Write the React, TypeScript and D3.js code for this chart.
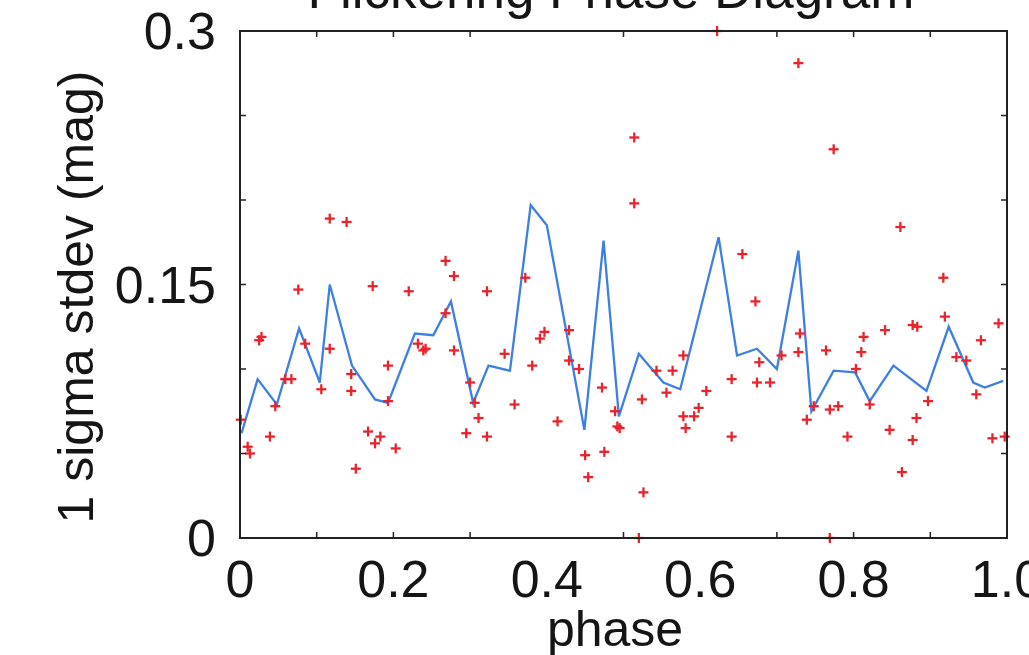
import React from "react";
import * as d3 from "d3";

// Binned mean line (phase, 1-sigma stdev)
const linePhase = [0.002, 0.023, 0.048, 0.077, 0.104, 0.117, 0.146, 0.176, 0.193, 0.228, 0.252, 0.275, 0.304, 0.324, 0.352, 0.379, 0.400, 0.449, 0.474, 0.494, 0.520, 0.552, 0.574, 0.624, 0.648, 0.674, 0.700, 0.728, 0.745, 0.774, 0.802, 0.821, 0.852, 0.895, 0.924, 0.956, 0.971, 0.995];
const lineValue = [0.062, 0.094, 0.079, 0.124, 0.092, 0.150, 0.102, 0.082, 0.080, 0.121, 0.120, 0.140, 0.080, 0.102, 0.099, 0.197, 0.185, 0.064, 0.176, 0.072, 0.109, 0.092, 0.088, 0.178, 0.108, 0.112, 0.100, 0.170, 0.075, 0.099, 0.098, 0.081, 0.102, 0.087, 0.125, 0.092, 0.089, 0.093];

// Individual measurements
const pointPhase = [
  0.117, 0.139, 0.076, 0.173, 0.220, 0.025, 0.085, 0.117, 0.232, 0.239, 0.193, 0.145, 0.067, 0.059, 0.106, 0.145, 0.046, 0.193, 0.001, 0.039,
  0.167, 0.183, 0.176, 0.203, 0.010, 0.013, 0.151, 0.268, 0.279, 0.322, 0.268, 0.372, 0.242, 0.279, 0.300, 0.311, 0.295, 0.322, 0.306, 0.429,
  0.391, 0.397, 0.345, 0.381, 0.429, 0.442, 0.472, 0.358, 0.414, 0.489, 0.492, 0.450, 0.475, 0.454, 0.514, 0.514, 0.622, 0.655, 0.672, 0.578,
  0.543, 0.564, 0.556, 0.524, 0.608, 0.598, 0.578, 0.592, 0.581, 0.495, 0.641, 0.641, 0.677, 0.674, 0.691, 0.706, 0.730, 0.728, 0.739, 0.526,
  0.728, 0.774, 0.861, 0.917, 0.919, 0.989, 0.877, 0.883, 0.841, 0.813, 0.966, 0.764, 0.810, 0.803, 0.934, 0.947, 0.960, 0.748, 0.769, 0.780,
  0.821, 0.897, 0.882, 0.847, 0.792, 0.877, 0.981, 0.997, 0.863, 0.769, 0.520, 0.028
];
const pointValue = [
  0.189, 0.187, 0.147, 0.149, 0.146, 0.117, 0.115, 0.112, 0.115, 0.111, 0.102, 0.097, 0.094, 0.094, 0.088, 0.087, 0.078, 0.081, 0.070, 0.060,
  0.063, 0.060, 0.056, 0.053, 0.054, 0.050, 0.041, 0.164, 0.155, 0.146, 0.133, 0.154, 0.112, 0.111, 0.092, 0.071, 0.062, 0.060, 0.080, 0.123,
  0.118, 0.122, 0.109, 0.102, 0.105, 0.100, 0.089, 0.079, 0.069, 0.075, 0.066, 0.049, 0.051, 0.036, 0.237, 0.198, 0.300, 0.168, 0.140, 0.108,
  0.099, 0.099, 0.086, 0.082, 0.087, 0.077, 0.072, 0.072, 0.065, 0.065, 0.094, 0.060, 0.104, 0.092, 0.092, 0.108, 0.121, 0.110, 0.070, 0.027,
  0.281, 0.230, 0.184, 0.154, 0.131, 0.127, 0.126, 0.125, 0.123, 0.119, 0.117, 0.111, 0.110, 0.100, 0.107, 0.105, 0.085, 0.078, 0.076, 0.078,
  0.079, 0.081, 0.071, 0.064, 0.060, 0.058, 0.059, 0.060, 0.039, 0.000, 0.000, 0.119
];

const xTickValues = [0.1, 0.2, 0.3, 0.5, 0.7, 0.8, 0.9];
const xTickLabels = [0, 0.2, 0.4, 0.6, 0.8, 1.0];
const yTickValues = [0.05, 0.1, 0.15, 0.2, 0.25];
const yTickLabels = [0, 0.15, 0.3];

const title = "Flickering Phase Diagram";
const xLabel = "phase";
const yLabel = "1 sigma stdev (mag)";

export default function App() {
  const W = 1029, H = 655;
  const left = 240, right = 1007, top = 31, bottom = 538;
  const x = d3.scaleLinear().domain([0, 1]).range([left, right]);
  const y = d3.scaleLinear().domain([0, 0.3]).range([bottom, top]);
  const font = "'Liberation Sans', Arial, Helvetica, sans-serif";
  const lineGen = d3.line<number>().x((_, i) => x(linePhase[i])).y((d) => y(d));
  const tickLen = 6;
  const cs = 5;
  const xFmt = (v: number) => (v === 0 ? "0" : v === 1 ? "1.0" : d3.format(".1f")(v));
  const yFmt = (v: number) => (v === 0 ? "0" : String(v));

  return (
    <svg width={W} height={H} style={{ position: "absolute", left: 0, top: 0, background: "#fff" }} fontFamily={font}>
      <rect x={0} y={0} width={W} height={H} fill="#fff" />
      <text x={611} y={8} fontSize={53} textAnchor="middle" fill="#151515">{title}</text>

      {/* data line */}
      <path d={lineGen(lineValue) || ""} fill="none" stroke="#3d7fe3" strokeWidth={2.3} strokeLinejoin="miter" />

      {/* points */}
      <g stroke="#e8232b" strokeWidth={2.3}>
        {pointPhase.map((p, i) => {
          const cx = x(p), cy = y(pointValue[i]);
          return (
            <g key={i}>
              <line x1={cx - cs} x2={cx + cs} y1={cy} y2={cy} />
              <line x1={cx} x2={cx} y1={cy - cs} y2={cy + cs} />
            </g>
          );
        })}
      </g>

      {/* frame */}
      <rect x={left} y={top} width={right - left} height={bottom - top} fill="none" stroke="#222" strokeWidth={2} />
      <g stroke="#222" strokeWidth={1.5}>
        {xTickValues.map((v) => (
          <g key={"xt" + v}>
            <line x1={x(v)} x2={x(v)} y1={bottom} y2={bottom - tickLen} />
            <line x1={x(v)} x2={x(v)} y1={top} y2={top + tickLen} />
          </g>
        ))}
        {yTickValues.map((v) => (
          <g key={"yt" + v}>
            <line x1={left} x2={left + tickLen} y1={y(v)} y2={y(v)} />
            <line x1={right} x2={right - tickLen} y1={y(v)} y2={y(v)} />
          </g>
        ))}
      </g>

      {/* tick labels */}
      <g fontSize={52} fill="#151515">
        {xTickLabels.map((v) => (
          <text key={"xl" + v} x={x(v)} y={597} textAnchor="middle">{xFmt(v)}</text>
        ))}
        {yTickLabels.map((v) => (
          <text key={"yl" + v} x={216} y={y(v) + 18} textAnchor="end">{yFmt(v)}</text>
        ))}
      </g>

      <text x={615} y={646} fontSize={50} textAnchor="middle" fill="#151515">{xLabel}</text>
      <text transform="translate(93,297) rotate(-90)" fontSize={50} textAnchor="middle" fill="#151515">{yLabel}</text>
    </svg>
  );
}
